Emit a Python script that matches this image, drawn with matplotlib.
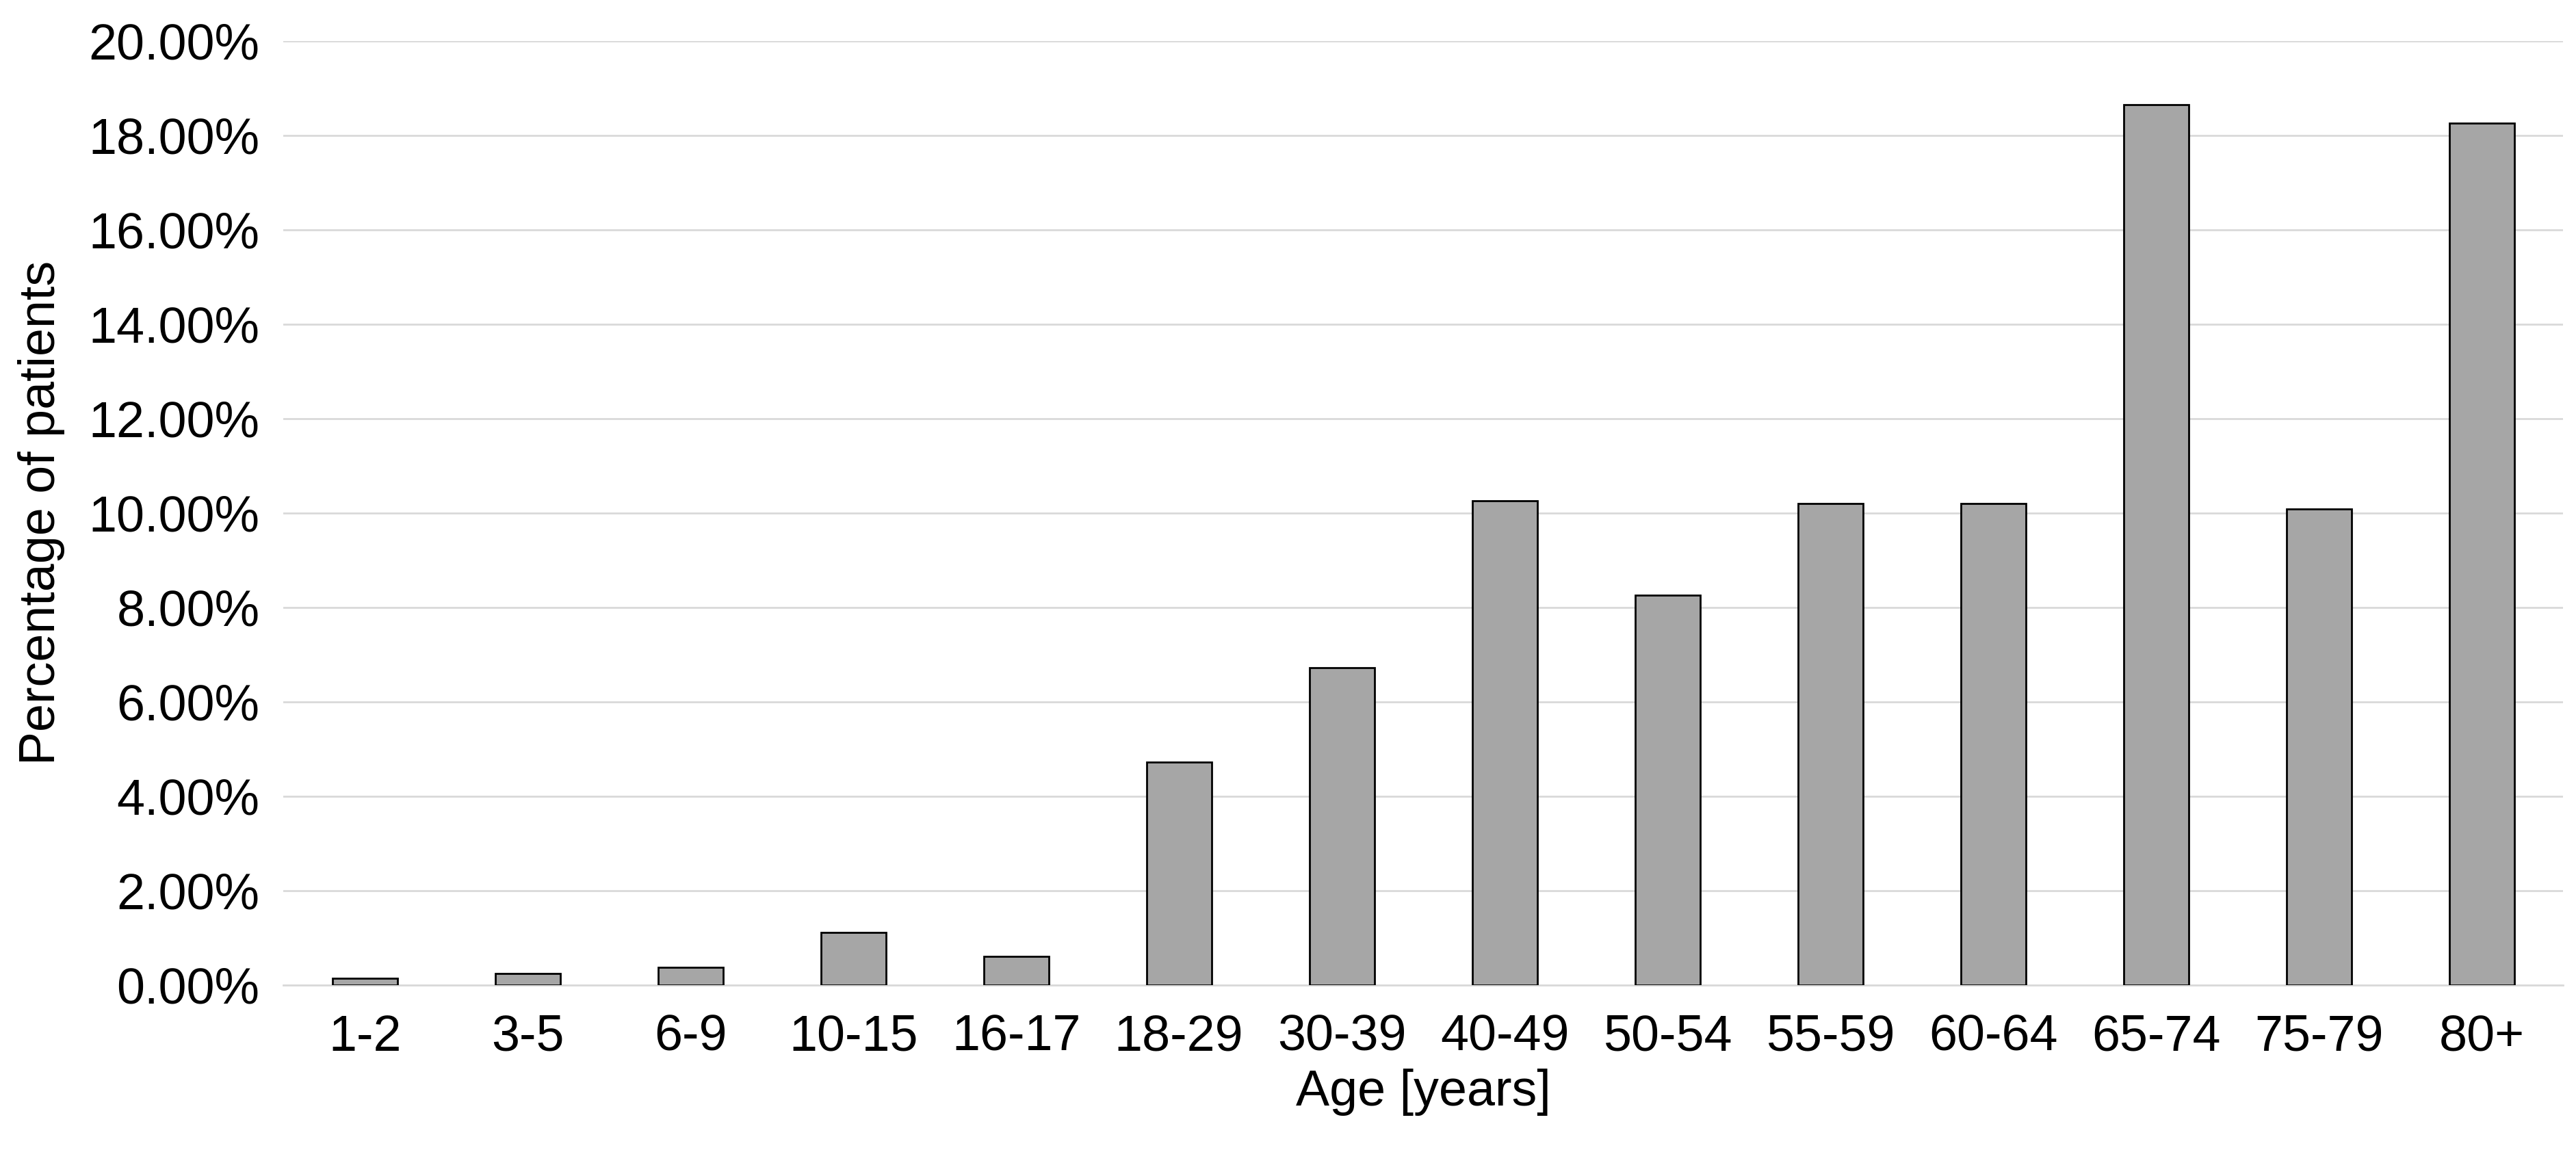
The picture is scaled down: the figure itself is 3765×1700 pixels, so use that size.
import matplotlib
matplotlib.use("Agg")
import matplotlib.pyplot as plt
from matplotlib.ticker import PercentFormatter

categories = ["1-2","3-5","6-9","10-15","16-17","18-29","30-39","40-49","50-54","55-59","60-64","65-74","75-79","80+"]
values = [0.15,0.25,0.38,1.12,0.60,4.72,6.72,10.25,8.25,10.20,10.20,18.65,10.08,18.25]

plt.rcParams['font.family'] = ['Liberation Sans', 'DejaVu Sans']
fig = plt.figure(figsize=(37.65, 17), dpi=100)
ax = fig.add_axes([0.11, 0.153, 0.885, 0.812])
x = range(len(categories))
ax.bar(x, values, width=0.4, color='#a6a6a6', edgecolor='black', linewidth=2, zorder=3)
ax.set_xticks(list(x))
ax.set_xticklabels(categories)
ax.set_xlim(-0.5, len(categories)-0.5)
ax.set_ylim(0, 20)
ax.set_yticks([i*2 for i in range(11)])
ax.yaxis.set_major_formatter(PercentFormatter(decimals=2))
ax.grid(axis='y', color='#d9d9d9', linewidth=2, zorder=0)
for s in ['top','right','left']:
    ax.spines[s].set_visible(False)
ax.spines['bottom'].set_color('#d9d9d9')
ax.spines['bottom'].set_linewidth(2)
ax.tick_params(axis='x', length=0, labelsize=53, pad=30)
ax.tick_params(axis='y', length=0, labelsize=53, pad=25)
ax.set_xlabel("Age [years]", fontsize=53, labelpad=8)
ax.set_ylabel("Percentage of patients", fontsize=53, labelpad=25)
fig.savefig("out.png", dpi=100)
